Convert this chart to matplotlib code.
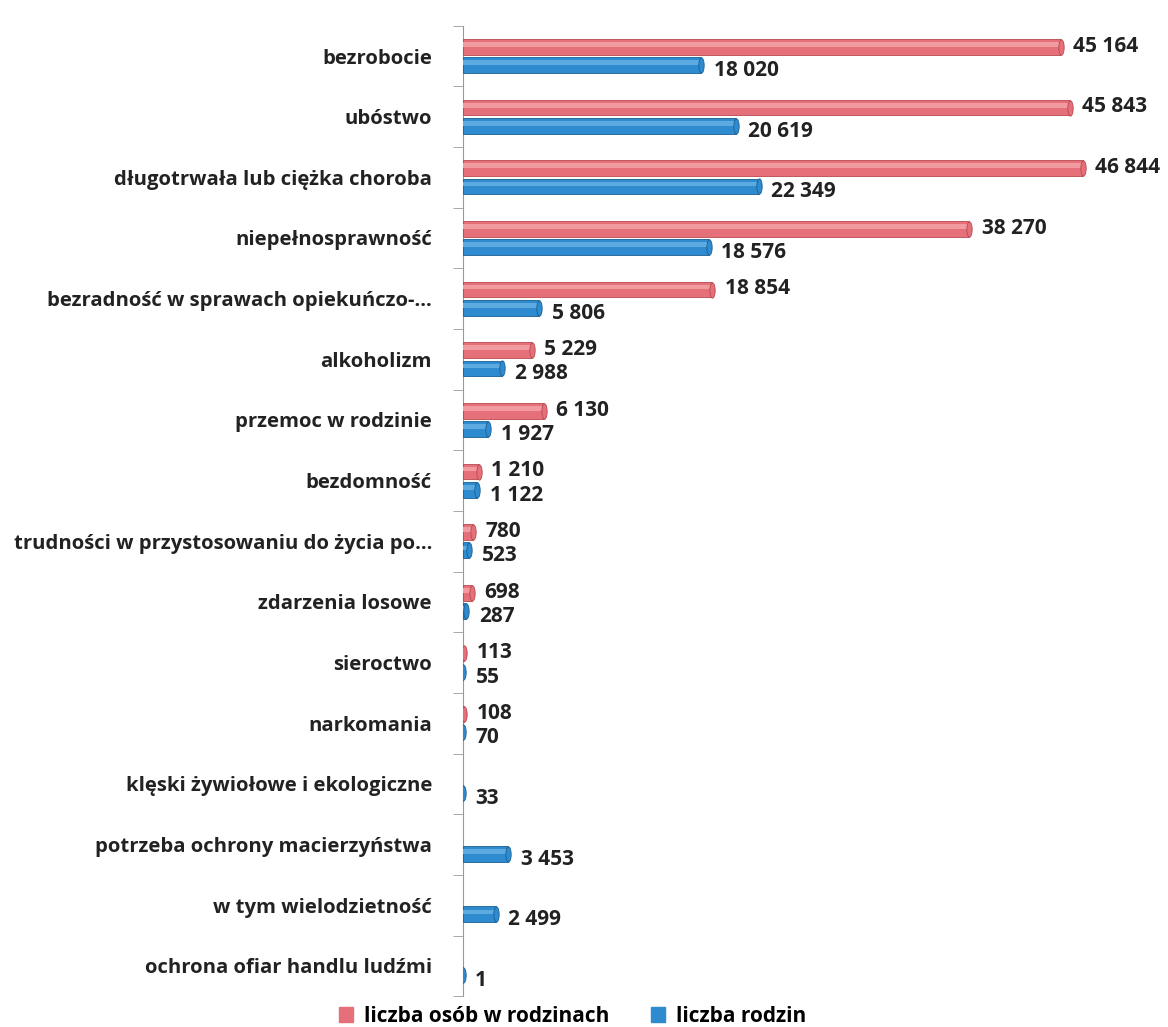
import numpy as np
import matplotlib.pyplot as plt
from matplotlib.path import Path
from matplotlib.transforms import Affine2D
from matplotlib.markers import MarkerStyle
from matplotlib.patches import Patch

plt.rcParams['font.family'] = ['Open Sans', 'DejaVu Sans']
plt.rcParams['font.weight'] = 'bold'

categories = ['bezrobocie', 'ubóstwo', 'długotrwała lub ciężka choroba',
              'niepełnosprawność', 'bezradność w sprawach opiekuńczo-...',
              'alkoholizm', 'przemoc w rodzinie', 'bezdomność',
              'trudności w przystosowaniu do życia po...', 'zdarzenia losowe',
              'sieroctwo', 'narkomania', 'klęski żywiołowe i ekologiczne',
              'potrzeba ochrony macierzyństwa', 'w tym wielodzietność',
              'ochrona ofiar handlu ludźmi']
osoby = [45164, 45843, 46844, 38270, 18854, 5229, 6130, 1210, 780, 698, 113, 108,
         None, None, None, None]
rodziny = [18020, 20619, 22349, 18576, 5806, 2988, 1927, 1122, 523, 287, 55, 70,
           33, 3453, 2499, 1]

red = '#E5707A'
red_dark = '#B84850'
blue = '#2E8BCF'
blue_dark = '#1C5F93'

def fmt(v):
    return f'{v:,}'.replace(',', ' ')

cap = MarkerStyle(Path.unit_circle().transformed(Affine2D().scale(0.35, 1.0)))

fig = plt.figure(figsize=(11.68, 10.27), dpi=100)
ax = fig.add_axes([0.396, 0.03, 0.567, 0.945])

y = np.arange(len(categories))
h = 0.26
off = 0.15

for yi, v in zip(y, osoby):
    if v is None:
        continue
    ax.barh(yi - off, v, height=h, color=red, edgecolor=red_dark, linewidth=0.6, zorder=3)
    ax.barh(yi - off - 0.04, v, height=h * 0.3, color='#F19AA0', linewidth=0, zorder=3.5)
    ax.plot([v], [yi - off], marker=cap, markersize=11, color=red, markeredgecolor=red_dark,
            markeredgewidth=0.6, zorder=4)
    ax.annotate(fmt(v), (v, yi - off), xytext=(9, 0.5), textcoords='offset points',
                va='center', ha='left', fontsize=15, fontweight='bold', color='#222222', zorder=5)

for yi, v in zip(y, rodziny):
    ax.barh(yi + off, v, height=h, color=blue, edgecolor=blue_dark, linewidth=0.6, zorder=3)
    ax.barh(yi + off - 0.04, v, height=h * 0.3, color='#5DAAE0', linewidth=0, zorder=3.5)
    ax.plot([v], [yi + off], marker=cap, markersize=11, color=blue, markeredgecolor=blue_dark,
            markeredgewidth=0.6, zorder=4)
    ax.annotate(fmt(v), (v, yi + off), xytext=(9, -4), textcoords='offset points',
                va='center', ha='left', fontsize=15, fontweight='bold', color='#222222', zorder=5)

ax.set_xlim(0, 50000)
ax.set_ylim(len(categories) - 0.5, -0.5)
ax.set_yticks(y)
ax.set_yticklabels(categories, fontsize=14.6, fontweight='bold', color='#222222')
ax.set_yticks(np.arange(-0.5, len(categories), 1), minor=True)
ax.tick_params(axis='y', which='major', length=0, pad=22)
ax.tick_params(axis='y', which='minor', length=7, color='#999999')
ax.set_xticks([])
for s in ['top', 'right', 'bottom']:
    ax.spines[s].set_visible(False)
ax.spines['left'].set_color('#999999')

handles = [Patch(color=red, label='liczba osób w rodzinach'),
           Patch(color=blue, label='liczba rodzin')]
fig.legend(handles=handles, loc='lower center', bbox_to_anchor=(0.49, -0.018), ncol=2,
           frameon=False, prop={'size': 15, 'weight': 'bold'}, handlelength=0.7,
           handleheight=0.7, columnspacing=2.0, handletextpad=0.5)

fig.savefig('out.png', dpi=100)
